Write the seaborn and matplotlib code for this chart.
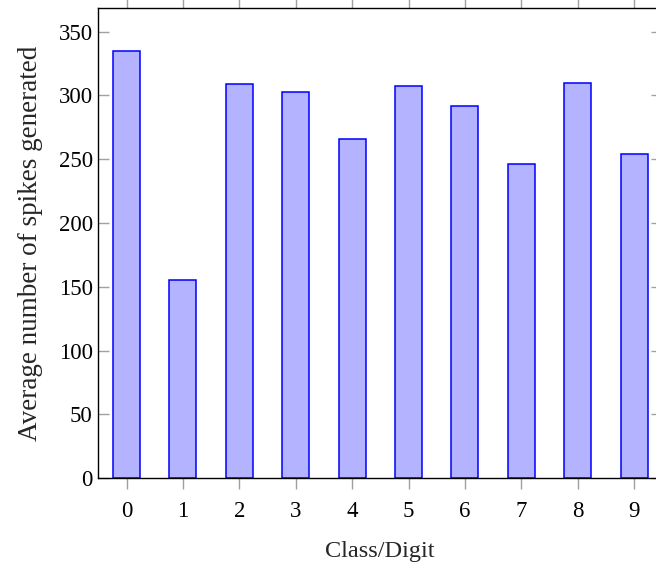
import matplotlib
matplotlib.use("Agg")
import matplotlib.pyplot as plt
import seaborn as sns
import pandas as pd

# Average spike counts per class
digits = ["0", "1", "2", "3", "4", "5", "6", "7", "8", "9"]
avg_spikes = [335, 155, 309, 303, 266, 307, 292, 246, 310, 254]
y_ticks = [0, 50, 100, 150, 200, 250, 300, 350]

sns.set_theme(style="white")
plt.rcParams["font.family"] = ["Liberation Serif", "DejaVu Serif"]

df = pd.DataFrame({"digit": digits, "spikes": avg_spikes})

fig = plt.figure(figsize=(6.56, 5.62), dpi=100)
ax = fig.add_axes([98.3 / 656, 83.7 / 562, 564.0 / 656, 470.3 / 562])

sns.barplot(data=df, x="digit", y="spikes", order=digits, ax=ax,
            color="#B3B3FF", saturation=1, width=0.48,
            edgecolor="#0000FF", linewidth=1.1)

ax.set_xlim(-0.5, 9.5)
ax.set_ylim(0, 368.5)
ax.set_yticks(y_ticks)
ax.set_yticklabels([str(v) for v in y_ticks])

for side in ["left", "right", "top", "bottom"]:
    ax.spines[side].set_visible(True)
    ax.spines[side].set_color("black")
    ax.spines[side].set_linewidth(1.0)

ax.tick_params(axis="x", direction="out", length=8, width=1.0, color="#a0a0a0",
               top=True, bottom=True, labelsize=16.5, pad=8, labelcolor="black")
ax.tick_params(axis="y", direction="in", length=8, width=1.0, color="#a0a0a0",
               left=True, right=True, labelsize=16.5, pad=4, labelcolor="black")

ax.set_xlabel("Class/Digit", fontsize=17.5, labelpad=14)
ax.set_ylabel("Average number of spikes generated", fontsize=19.5, labelpad=11)

fig.savefig("out.png", dpi=100)
